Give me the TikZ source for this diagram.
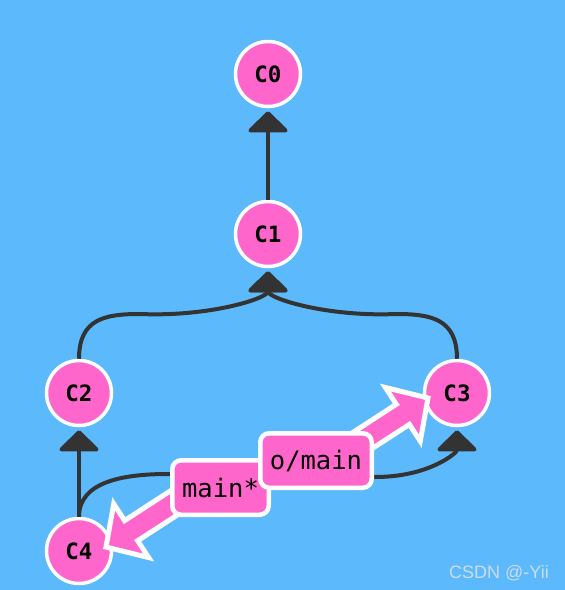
\documentclass[tikz,border=0pt]{standalone}
\usepackage{fontspec}
\setmainfont{DejaVu Sans}
\newfontfamily\monofont{DejaVu Sans Mono}
\newfontfamily\wmfont{Liberation Sans}
\usetikzlibrary{arrows.meta}
\definecolor{bgblue}{RGB}{92,185,252}
\definecolor{cpink}{RGB}{255,102,204}
\definecolor{edgegray}{RGB}{51,51,51}
\definecolor{wmgray}{RGB}{205,220,235}
\begin{document}
\begin{tikzpicture}[x=1pt,y=-1pt,
  commit/.style={circle, fill=cpink, draw=white, line width=3.5pt, minimum size=65pt, inner sep=0pt,
    font=\monofont\bfseries\fontsize{22.5}{26}\selectfont},
  edge/.style={draw=edgegray, line width=4pt, -{Triangle[length=22pt,width=44pt,round]}, shorten >=3pt},
  branch/.style={rectangle, rounded corners=9pt, fill=cpink, draw=white, line width=4.5pt, inner sep=0pt,
    minimum height=54.5pt, font=\monofont\fontsize{25.5}{30}\selectfont},
  barrow/.style={fill=cpink, draw=white, line width=5pt, line join=miter}]
\fill[bgblue] (0,0) rectangle (565,590);
\useasboundingbox (0,0) rectangle (565,590);

\node[commit] (c0) at (268,74) {C0};
\node[commit] (c1) at (268,234) {C1};
\node[commit] (c2) at (79,393) {C2};
\node[commit] (c3) at (457,393) {C3};
\node[commit] (c4) at (79,551) {C4};

\draw[edge] (c1.north) -- (c0.south);
\draw[edge] (c4.north) -- (c2.south);
\draw[edge] (c2.north) .. controls +(0,-40) and +(-35,0) .. (140,314) .. controls +(70,3) and +(0,30) .. (c1.south);
\draw[edge] (c3.north) .. controls +(0,-40) and +(35,0) .. (396,314) .. controls +(-70,3) and +(0,30) .. (c1.south);
\draw[edge] (c4.north) .. controls +(0,-35) and +(-45,0) .. (168,474) -- (375,477) .. controls +(55,0) and +(0,25) .. (c3.south);

\coordinate (tipo) at (428,398);
\coordinate (tipm) at (106,547);
\begin{scope}[shift={(tipo)}, rotate=213]
  \draw[barrow] (0,0) -- (30,-32) -- (30,-12) -- (115,-12) -- (115,12) -- (30,12) -- (30,32) -- cycle;
\end{scope}
\begin{scope}[shift={(tipm)}, rotate=33]
  \draw[barrow] (0,0) -- (30,-32) -- (30,-12) -- (115,-12) -- (115,12) -- (30,12) -- (30,32) -- cycle;
\end{scope}

\node[branch, minimum width=96.5pt] (mainb) at (220.5,487.5) {main*};
\node[branch, minimum width=111.5pt] (omain) at (316,460.5) {o/main};

\node[font=\wmfont\fontsize{18}{20}\selectfont, text=wmgray, anchor=base east, inner sep=0pt] (wm) at (549,578) {CSDN @-Yii};
\end{tikzpicture}
\end{document}
